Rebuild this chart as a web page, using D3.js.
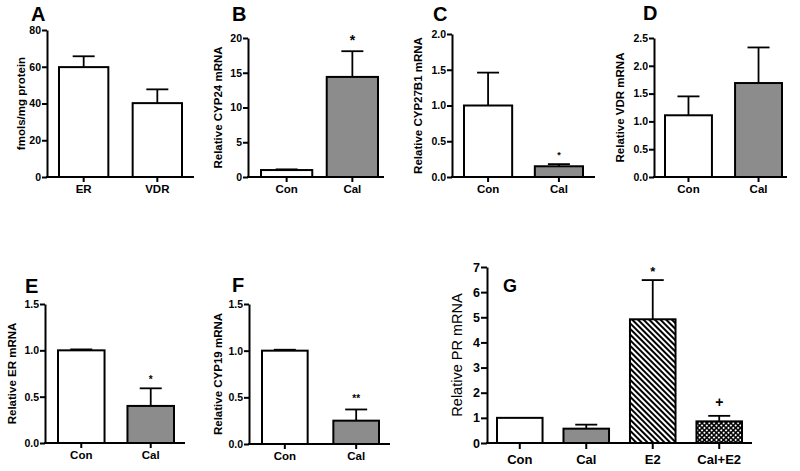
<!DOCTYPE html>
<html>
<head>
<meta charset="utf-8">
<script src="https://cdn.jsdelivr.net/npm/d3@7"></script>
<style>
  body { margin: 0; background: #fff; }
  svg { display: block; font-family: "Liberation Sans", Arial, sans-serif; font-weight: bold; }
</style>
</head>
<body>
<svg id="chart" width="800" height="471"></svg>
<script>
// ---- data (mean, SEM) ----
const catsA = ["ER", "VDR"];
const valsA = [59.8, 40.2];
const semA = [5.9, 7.5];
const ticksA = [0, 20, 40, 60, 80];

const catsB = ["Con", "Cal"];
const valsB = [1.0, 14.4];
const semB = [0.1, 3.7];
const ticksB = [0, 5, 10, 15, 20];
const marksB = ["", "*"];

const catsC = ["Con", "Cal"];
const valsC = [1.0, 0.15];
const semC = [0.46, 0.03];
const ticksC = [0, 0.5, 1.0, 1.5, 2.0];
const marksC = ["", "*"];

const catsD = ["Con", "Cal"];
const valsD = [1.11, 1.69];
const semD = [0.34, 0.64];
const ticksD = [0, 0.5, 1.0, 1.5, 2.0, 2.5];

const catsE = ["Con", "Cal"];
const valsE = [1.0, 0.4];
const semE = [0.01, 0.19];
const ticksE = [0, 0.5, 1.0, 1.5];
const marksE = ["", "*"];

const catsF = ["Con", "Cal"];
const valsF = [1.0, 0.25];
const semF = [0.01, 0.12];
const ticksF = [0, 0.5, 1.0, 1.5];
const marksF = ["", "**"];

const catsG = ["Con", "Cal", "E2", "Cal+E2"];
const valsG = [1.0, 0.57, 4.92, 0.86];
const semG = [0, 0.16, 1.56, 0.22];
const ticksG = [0, 1, 2, 3, 4, 5, 6, 7];
const marksG = ["", "", "*", "+"];

const GRAY = "#8c8c8c";

const svg = d3.select("#chart");

// patterns for panel G
const defs = svg.append("defs");
defs.append("pattern")
  .attr("id", "hatch")
  .attr("patternUnits", "userSpaceOnUse")
  .attr("width", 4).attr("height", 4)
  .attr("patternTransform", "rotate(-45)")
  .call(p => {
    p.append("rect").attr("width", 4).attr("height", 4).attr("fill", "#fff");
    p.append("rect").attr("width", 2).attr("height", 4).attr("fill", "#000");
  });
defs.append("pattern")
  .attr("id", "cross")
  .attr("patternUnits", "userSpaceOnUse")
  .attr("width", 3.4).attr("height", 3.4)
  .attr("patternTransform", "rotate(45)")
  .call(p => {
    p.append("rect").attr("width", 3.4).attr("height", 3.4).attr("fill", "#000");
    p.append("circle").attr("cx", 1.7).attr("cy", 1.7).attr("r", 1.05).attr("fill", "#fff");
  });

const f1 = d3.format(".1f");
const f0 = d3.format("d");

// panels: data + where each one sits
const panels = [
  { letter: "A", cats: catsA, vals: valsA, sem: semA, ticks: ticksA, fmt: f0, fills: ["#fff", "#fff"],
    ylabel: "fmols/mg protein",
    L: { ax: 47, top: 30, bottom: 177, end: 194, r0: 59, r1: 182, pad: 0.33, labX: 25, letX: 31, letY: 21 } },
  { letter: "B", cats: catsB, vals: valsB, sem: semB, ticks: ticksB, fmt: f0, fills: ["#fff", GRAY], marks: marksB,
    ylabel: "Relative CYP24 mRNA", markFs: 14, markGap: 6,
    L: { ax: 248, top: 38, bottom: 177, end: 384, r0: 261, r1: 378, pad: 0.22, labX: 222, letX: 232, letY: 21 } },
  { letter: "C", cats: catsC, vals: valsC, sem: semC, ticks: ticksC, fmt: f1, fills: ["#fff", GRAY], marks: marksC,
    ylabel: "Relative CYP27B1 mRNA", markFs: 9, markGap: 6,
    L: { ax: 452, top: 34, bottom: 177, end: 595, r0: 464, r1: 583, pad: 0.32, labX: 422, letX: 433, letY: 21 } },
  { letter: "D", cats: catsD, vals: valsD, sem: semD, ticks: ticksD, fmt: f1, fills: ["#fff", GRAY],
    ylabel: "Relative VDR mRNA",
    L: { ax: 654, top: 38, bottom: 177, end: 787, r0: 665, r1: 782, pad: 0.33, labX: 624, letX: 643, letY: 20 } },
  { letter: "E", cats: catsE, vals: valsE, sem: semE, ticks: ticksE, fmt: f1, fills: ["#fff", GRAY], marks: marksE,
    ylabel: "Relative ER mRNA", markFs: 10, markGap: 5,
    L: { ax: 45, top: 304, bottom: 443, end: 185, r0: 58, r1: 174, pad: 0.33, labX: 16, letX: 25, letY: 293 } },
  { letter: "F", cats: catsF, vals: valsF, sem: semF, ticks: ticksF, fmt: f1, fills: ["#fff", GRAY], marks: marksF,
    ylabel: "Relative CYP19 mRNA", markFs: 10, markGap: 7,
    L: { ax: 249, top: 304, bottom: 444, end: 390, r0: 262, r1: 379, pad: 0.36, labX: 222, letX: 232, letY: 292 } },
  { letter: "G", cats: catsG, vals: valsG, sem: semG, ticks: ticksG, fmt: f0, fills: ["#fff", GRAY, "url(#hatch)", "url(#cross)"],
    marks: marksG, ylabel: "Relative PR mRNA", markFs: 13, markGap: 4.5, big: true,
    L: { ax: 487, top: 267, bottom: 443, end: 752, r0: 497, r1: 742, pad: 0.315, labX: 462, letX: 503, letY: 292 } }
];

panels.forEach(drawPanel);

function drawPanel(d) {
  const L = d.L;
  const tickFs = d.big ? 12.5 : 10.5;
  const catFs = d.big ? 13 : 11.5;
  const labFs = d.big ? 14.5 : 11.5;
  const g = svg.append("g");

  const y = d3.scaleLinear()
    .domain([d.ticks[0], d.ticks[d.ticks.length - 1]])
    .range([L.bottom, L.top]);
  const x = d3.scaleBand()
    .domain(d.cats)
    .range([L.r0, L.r1])
    .paddingInner(L.pad);
  const bw = x.bandwidth();

  // bars
  g.selectAll("rect.bar")
    .data(d.cats)
    .join("rect")
    .attr("class", "bar")
    .attr("x", c => x(c))
    .attr("y", (c, i) => y(d.vals[i]))
    .attr("width", bw)
    .attr("height", (c, i) => y(0) - y(d.vals[i]))
    .attr("fill", (c, i) => d.fills[i])
    .attr("stroke", "#000")
    .attr("stroke-width", 2);

  // error bars (upper only)
  d.cats.forEach((c, i) => {
    if (!d.sem[i]) return;
    const cx = x(c) + bw / 2;
    const y1 = y(d.vals[i]);
    const y2 = y(d.vals[i] + d.sem[i]);
    g.append("line").attr("x1", cx).attr("x2", cx).attr("y1", y1).attr("y2", y2)
      .attr("stroke", "#000").attr("stroke-width", 1.8);
    g.append("line").attr("x1", cx - 11).attr("x2", cx + 11).attr("y1", y2).attr("y2", y2)
      .attr("stroke", "#000").attr("stroke-width", 1.8);
  });

  // significance marks
  if (d.marks) {
    d.cats.forEach((c, i) => {
      const m = d.marks[i];
      if (!m) return;
      const top = y(d.vals[i] + d.sem[i]);
      const plus = m === "+";
      g.append("text")
        .attr("x", x(c) + bw / 2)
        .attr("y", top - (plus ? 9 : d.markGap))
        .attr("text-anchor", "middle")
        .attr("font-size", plus ? 14 : d.markFs)
        .text(m);
    });
  }

  // y axis
  const yAxis = d3.axisLeft(y)
    .tickValues(d.ticks)
    .tickFormat(d.fmt)
    .tickSize(d.big ? 6 : 5)
    .tickSizeOuter(0)
    .tickPadding(1);
  const ya = g.append("g")
    .attr("transform", `translate(${L.ax},0)`)
    .call(yAxis);
  ya.attr("font-family", null).attr("font-size", null);
  ya.select(".domain").attr("stroke-width", 2);
  ya.selectAll(".tick line").attr("stroke-width", 2);
  ya.selectAll(".tick text").attr("font-size", tickFs).attr("fill", "#000");

  // x axis
  const xAxis = d3.axisBottom(x)
    .tickSize(d.big ? 6 : 5)
    .tickSizeOuter(0)
    .tickPadding(d.big ? 6 : 3);
  const xa = g.append("g")
    .attr("transform", `translate(0,${L.bottom})`)
    .call(xAxis);
  xa.attr("font-family", null).attr("font-size", null);
  xa.select(".domain").remove();
  xa.selectAll(".tick line").attr("stroke-width", 2);
  xa.selectAll(".tick text").attr("font-size", catFs).attr("fill", "#000");
  g.append("line")
    .attr("x1", L.ax - 1).attr("x2", L.end)
    .attr("y1", L.bottom).attr("y2", L.bottom)
    .attr("stroke", "#000").attr("stroke-width", 2);

  // y label
  g.append("text")
    .attr("transform", `translate(${L.labX},${(L.top + L.bottom) / 2}) rotate(-90)`)
    .attr("text-anchor", "middle")
    .attr("font-size", labFs)
    .attr("font-weight", d.big ? "normal" : "bold")
    .text(d.ylabel);

  // panel letter
  g.append("text")
    .attr("x", L.letX)
    .attr("y", L.letY)
    .attr("font-size", d.big ? 18 : 20)
    .text(d.letter);
}
</script>
</body>
</html>
